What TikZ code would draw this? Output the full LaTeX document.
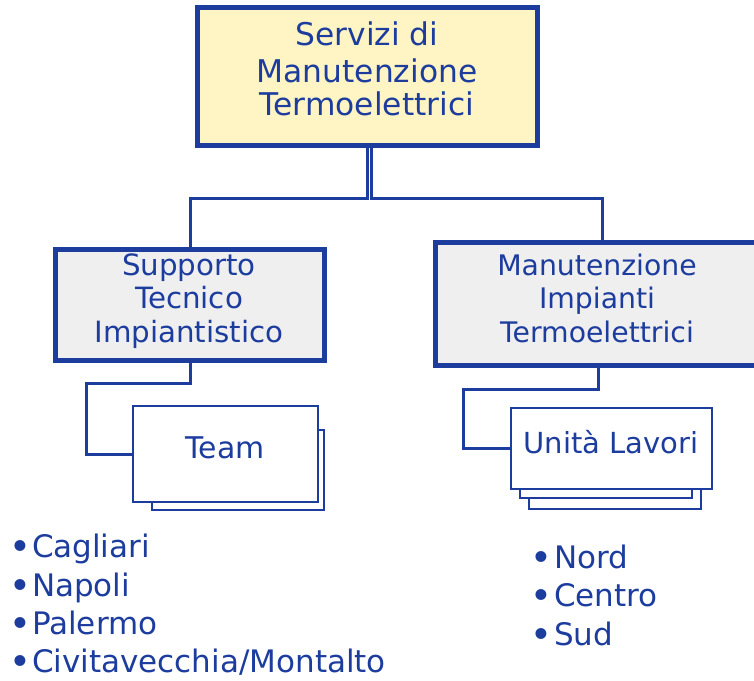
\documentclass[tikz,border=0pt]{standalone}
\usepackage{fontspec}
\setmainfont{DejaVu Sans}
\definecolor{ink}{RGB}{28,60,158}
\definecolor{pale}{RGB}{255,244,196}
\definecolor{grayfill}{RGB}{239,239,239}
\newcommand{\bigdot}{\textbf{•}}
\begin{document}
\begin{tikzpicture}[x=1pt,y=-1pt,
 bigbox/.style={draw=ink,line width=5pt,rectangle,inner sep=0pt},
 card/.style={draw=ink,line width=2pt,fill=white,rectangle,inner sep=0pt},
 conn/.style={draw=ink,line width=3pt},
 txt/.style={text=ink,inner sep=0pt,anchor=base},
 item/.style={text=ink,inner sep=0pt,anchor=base west,font=\fontsize{31}{37}\selectfont}]
\clip (0,0) rectangle (754,680);
\useasboundingbox (0,0) rectangle (754,680);

% main boxes
\node[bigbox,fill=pale,minimum width=340pt,minimum height=138pt] (top) at (367.5,76.5) {};
\node[bigbox,fill=grayfill,minimum width=269pt,minimum height=111pt] (stil) at (190,305) {};
\node[bigbox,fill=grayfill,minimum width=345pt,minimum height=122.5pt] (mit) at (607.5,303.75) {};

% texts of main boxes
\begin{scope}[every node/.style={txt,font=\fontsize{31.3}{37}\selectfont}]
\node (t1) at (367,45) {Servizi di};
\node (t2) at (367,82) {Manutenzione};
\node (t3) at (367,115) {Termoelettrici};
\end{scope}
\begin{scope}[every node/.style={txt,font=\fontsize{29.3}{35}\selectfont}]
\node (s1) at (189,275) {Supporto};
\node (s2) at (189,308) {Tecnico};
\node (s3) at (189,342) {Impiantistico};
\end{scope}
\begin{scope}[every node/.style={txt,font=\fontsize{28.3}{34}\selectfont}]
\node (m1) at (597,275) {Manutenzione};
\node (m2) at (597,308) {Impianti};
\node (m3) at (597,342) {Termoelettrici};
\end{scope}

% connectors from top
\draw[conn] ([xshift=-0.5pt]top.south) -- ++(0,50) -| (stil.north);
\draw[conn] ([xshift=3.5pt]top.south) -- ++(0,50) -| ([xshift=-5.5pt]mit.north);

% Team cards
\node[card,minimum width=172pt,minimum height=80pt] (teamb) at (238,470) {};
\node[card,minimum width=185pt,minimum height=96pt] (team) at (225.5,454) {};
\node[txt,font=\fontsize{29.9}{35}\selectfont] (teamt) at (225,458) {Team};
\draw[conn] (stil.south) -- ++(0,20) -- ++(-104,0) |- (team.west);

% Unita Lavori cards
\node[card,minimum width=172pt,minimum height=79pt] (unitc) at (615,469.5) {};
\node[card,minimum width=172pt,minimum height=78pt] (unitb) at (606,459) {};
\node[card,minimum width=201pt,minimum height=81pt] (unit) at (611.5,448.5) {};
\node[txt,font=\fontsize{29}{34}\selectfont] (unitt) at (611,453) {Unità Lavori};
\draw[conn] ([xshift=-9.5pt]mit.south) -- ++(0,22) -- ++(-135,0) |- (unit.west);

% bullet lists
\node[item] (l1) at (10,557.5) {\bigdot\hspace{2pt}Cagliari};
\node[item] (l2) at (10,596) {\bigdot\hspace{2pt}Napoli};
\node[item] (l3) at (10,634.5) {\bigdot\hspace{2pt}Palermo};
\node[item] (l4) at (10,672.5) {\bigdot\hspace{2pt}Civitavecchia/Montalto};
\node[item] (r1) at (531,568) {\bigdot\hspace{3pt}Nord};
\node[item] (r2) at (531,606.5) {\bigdot\hspace{3pt}Centro};
\node[item] (r3) at (531,645) {\bigdot\hspace{3pt}Sud};
\end{tikzpicture}
\end{document}
